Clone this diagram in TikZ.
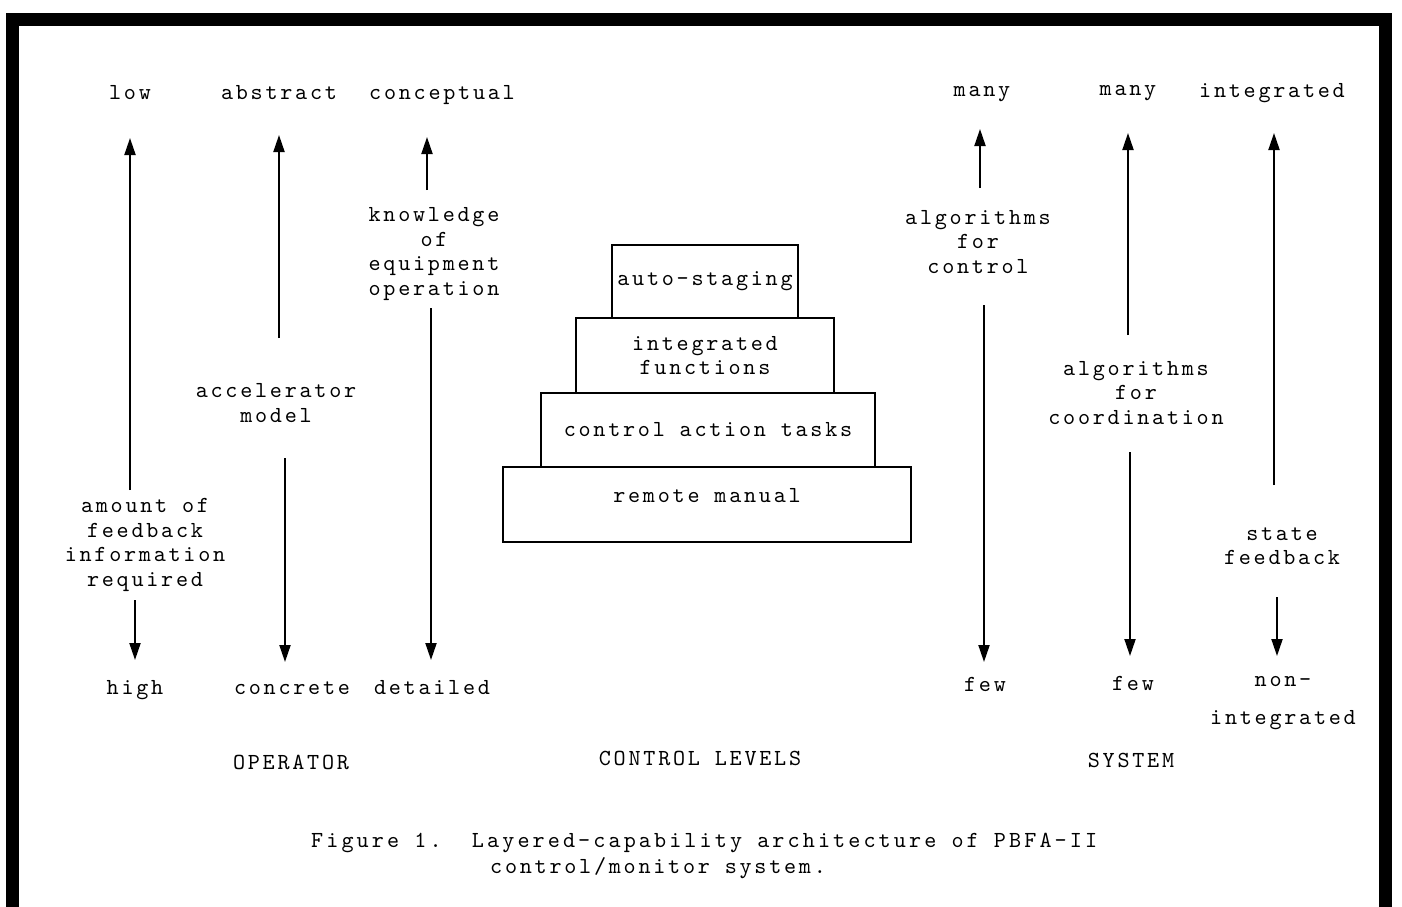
\documentclass[tikz,border=0pt]{standalone}
\usepackage{fontspec}
\usetikzlibrary{arrows.meta}
\newfontfamily\twfam{lmmono10-regular.otf}[LetterSpace=12]
\newfontfamily\twcapfam{lmmono10-regular.otf}[LetterSpace=13.5]
\newcommand\twfont{\twfam\fontsize{23}{24.5}\selectfont}
\newcommand\twcapfont{\twcapfam\fontsize{23}{24.5}\selectfont}
\tikzset{
  lbl/.style={font=\twfont, inner sep=0pt, align=center},
  caplbl/.style={font=\twcapfont, inner sep=0pt, anchor=west},
  arr/.style={line width=2pt, -{Triangle[width=11pt,length=17pt]}},
  level/.style={draw, line width=2pt, inner sep=0pt, font=\twfont, align=center},
  frame/.style={line width=13pt}
}
\begin{document}
\begin{tikzpicture}[x=1pt,y=-1pt]
\useasboundingbox (0,0) rectangle (1402,907);
\fill[white] (0,0) rectangle (1402,907);
\draw[frame] (12,20) rectangle (1385,913);

% top labels
\node[lbl] (low) at (130,93) {low};
\node[lbl] (abstract) at (279,93) {abstract};
\node[lbl] (conceptual) at (442,95) {conceptual};
\node[lbl] (many1) at (982,94) {many};
\node[lbl] (many2) at (1128,93) {many};
\node[lbl] (integ) at (1272,93) {integrated};

% middle labels
\node[lbl] (amt) at (145,545) {amount of\\feedback\\information\\required};
\node[lbl] (accel) at (276,403) {accelerator\\model};
\node[lbl] (know) at (434,254) {knowledge\\of\\equipment\\operation};
\node[lbl] (alg1) at (978,242) {algorithms\\for\\control};
\node[lbl] (alg2) at (1136,393) {algorithms\\for\\coordination};
\node[lbl] (state) at (1282,546) {state\\feedback};

% bottom labels
\node[lbl] (high) at (135,690) {high};
\node[lbl] (concrete) at (292,688) {concrete};
\node[lbl] (detailed) at (432,688) {detailed};
\node[lbl] (few1) at (985,684) {few};
\node[lbl] (few2) at (1133,683) {few};
\node[lbl] (nonint) at (1283,703) {non-\\[13pt]integrated};

% group labels
\node[lbl] (operator) at (291,762) {OPERATOR};
\node[lbl] (levels) at (700,758) {CONTROL LEVELS};
\node[lbl] (system) at (1131,760) {SYSTEM};

% caption
\node[caplbl] (cap1) at (311,843) {Figure 1.~~Layered-capability architecture of PBFA-II};
\node[lbl, anchor=west] (cap2) at (490,868) {control/monitor system.};

% control level boxes
\node[level, minimum width=186pt, minimum height=73pt] (auto) at (705,281.5) {auto-staging};
\node[level, minimum width=258pt, minimum height=75pt] (intf) at (705,355.5) {integrated\\functions};
\node[level, minimum width=334pt, minimum height=74pt] (cat) at (708,430) {control action tasks};
\node[level, minimum width=408pt, minimum height=75pt, text depth=19pt] (rm) at (707,504.5) {remote manual};

% arrow x positions
\coordinate (x1u) at (130,0);
\coordinate (x1d) at (135,0);
\coordinate (x2u) at (279,0);
\coordinate (x2d) at (285,0);
\coordinate (x3u) at (427,0);
\coordinate (x3d) at (431,0);
\coordinate (x4u) at (980,0);
\coordinate (x4d) at (984,0);
\coordinate (x5u) at (1128,0);
\coordinate (x5d) at (1130,0);
\coordinate (x6u) at (1274,0);
\coordinate (x6d) at (1277,0);

% arrows
\draw[arr, shorten <=55pt, shorten >=45pt] (x1u |- amt.center) -- (x1u |- low.center);
\draw[arr, shorten <=55pt, shorten >=30pt] (x1d |- amt.center) -- (x1d |- high.center);
\draw[arr, shorten <=65pt, shorten >=42pt] (x2u |- accel.center) -- (x2u |- abstract.center);
\draw[arr, shorten <=55pt, shorten >=26pt] (x2d |- accel.center) -- (x2d |- concrete.center);
\draw[arr, shorten <=64pt, shorten >=42pt] (x3u |- know.center) -- (x3u |- conceptual.center);
\draw[arr, shorten <=54pt, shorten >=28pt] (x3d |- know.center) -- (x3d |- detailed.center);
\draw[arr, shorten <=54pt, shorten >=35pt] (x4u |- alg1.center) -- (x4u |- many1.center);
\draw[arr, shorten <=63pt, shorten >=22pt] (x4d |- alg1.center) -- (x4d |- few1.center);
\draw[arr, shorten <=58pt, shorten >=40pt] (x5u |- alg2.center) -- (x5u |- many2.center);
\draw[arr, shorten <=59pt, shorten >=27pt] (x5d |- alg2.center) -- (x5d |- few2.center);
\draw[arr, shorten <=61pt, shorten >=40pt] (x6u |- state.center) -- (x6u |- integ.center);
\draw[arr, shorten <=51pt, shorten >=47pt] (x6d |- state.center) -- (x6d |- nonint.center);
\end{tikzpicture}
\end{document}
